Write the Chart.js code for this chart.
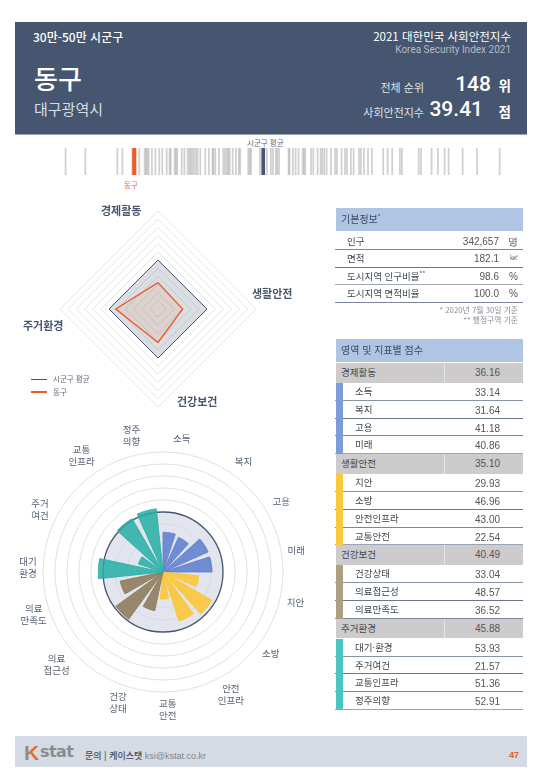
<!DOCTYPE html>
<html lang="ko">
<head>
<meta charset="utf-8">
<title>동구 사회안전지수</title>
<script src="https://cdn.jsdelivr.net/npm/chart.js@4"></script>
<style>
  html, body { margin: 0; padding: 0; background: #fff; }
  #page { position: relative; width: 540px; height: 780px; overflow: hidden;
          font-family: "Noto Sans CJK KR", sans-serif; color: #4a5568; }
  #page > * { position: absolute; }
  .t { position: absolute; white-space: nowrap; line-height: 1; }
  .num { font-family: "Liberation Sans", Arial, sans-serif; }
  canvas { display: block; }
  #head { left: 15px; top: 22px; width: 512px; height: 113px; background: #465570;
          border-bottom: 1px solid #9aa5b5; box-sizing: border-box; color: #fff; }
  #foot { left: 15px; top: 736px; width: 512px; height: 31px; background: #d5dbe4; }
  .bar { background: #b0c4e4; left: 336px; width: 187px; height: 23px; color: #3f4a5c; font-size: 10px; }
  .bar span { position: absolute; left: 5px; top: 6px; line-height: 1; }
  .radarLabel { font-size: 11px; font-weight: 700; color: #465570; }
  .row { position: absolute; left: 335px; width: 188px; font-size: 9.5px; color: #3f4650; }
  .row sup { font-size: 6px; line-height: 0; }
</style>
</head>
<body>
<div id="page">
  <div id="head">
    <div class="t" style="left:18px;top:9px;font-size:12px;font-weight:500">30만-50만 시군구</div>
    <div class="t" style="right:16px;top:9px;font-size:11.5px">2021 대한민국 사회안전지수</div>
    <div class="t" style="right:16px;top:23px;font-size:10px;color:#b4bcc9;font-family:Roboto">Korea Security Index 2021</div>
    <div class="t" style="left:19px;top:43px;font-size:26px;font-weight:500">동구</div>
    <div class="t" style="left:19px;top:79px;font-size:15px;color:#d9dde4">대구광역시</div>
    <div class="t" style="right:103px;top:60px;font-size:11px;color:#dfe3e9">전체 순위</div>
    <div class="t" style="right:36px;top:52px;font-size:21px;font-weight:500;font-family:Roboto">148</div>
    <div class="t" style="right:16px;top:57px;font-size:13.5px;font-weight:700">위</div>
    <div class="t" style="right:103px;top:85px;font-size:11px;color:#dfe3e9">사회안전지수</div>
    <div class="t" style="right:44px;top:77px;font-size:21px;font-weight:500;font-family:Roboto">39.41</div>
    <div class="t" style="right:16px;top:83px;font-size:13.5px;font-weight:700">점</div>
  </div>

  <div class="t" style="left:247px;top:139px;font-size:7.5px;color:#5f6b7d">시군구 평균</div>
  <canvas id="stripChart" width="465" height="27" style="left:50px;top:148px"></canvas>
  <div class="t" style="left:124px;top:181px;font-size:7.5px;color:#ee6a3c">동구</div>

  <canvas id="radarChart" width="220" height="220" style="left:48px;top:199px"></canvas>
  <div class="t radarLabel" style="left:101px;top:205px">경제활동</div>
  <div class="t radarLabel" style="left:252px;top:288px">생활안전</div>
  <div class="t radarLabel" style="left:177px;top:396px">건강보건</div>
  <div class="t radarLabel" style="left:23px;top:320px">주거환경</div>
  <div style="left:31px;top:379px;width:16px;height:1px;background:#47556e"></div>
  <div class="t" style="left:53px;top:375px;font-size:7.5px;color:#5f6b7d">시군구 평균</div>
  <div style="left:31px;top:391px;width:16px;height:2px;background:#ee5a24"></div>
  <div class="t" style="left:53px;top:388px;font-size:7.5px;color:#5f6b7d">동구</div>

  <canvas id="polarChart" width="320" height="320" style="left:3px;top:412px"></canvas>

  <div class="bar" style="top:208px"><span>기본정보<sup style="font-size:6px;line-height:0">*</sup></span></div>
  <div id="infoRows"></div>
  <div class="t" style="right:22px;top:306px;font-size:7.8px;color:#8a8f98">* 2020년 7월 30일 기준</div>
  <div class="t" style="right:22px;top:316px;font-size:7.8px;color:#8a8f98">** 행정구역 기준</div>

  <div class="bar" style="top:339px"><span>영역 및 지표별 점수</span></div>
  <div id="scoreRows"></div>

  <div id="foot">
    <div class="t" style="left:9px;top:6px;font-size:21px;font-weight:700;font-family:'Liberation Sans';color:transparent;background:linear-gradient(90deg,#8a8d90 36%,#ee6a24 36%);-webkit-background-clip:text;background-clip:text">K</div>
    <div class="t" style="left:25px;top:8px;font-size:16px;font-weight:700;font-family:'DejaVu Sans';color:#8a8d90;letter-spacing:-0.6px">stat</div>
    <div class="t" style="left:70px;top:15px;font-size:9px;font-weight:500;color:#444c58">문의 | 케이스탯 <span class="num" style="font-weight:400;color:#7d8592">ksi@kstat.co.kr</span></div>
    <div class="t num" style="right:8px;top:15px;font-size:9px;font-weight:700;color:#e0602c">47</div>
  </div>
</div>

<script>
/*********************************************************
 * DATA
 *********************************************************/
const districtName = "동구";
const averageName = "시군구 평균";

// 전체 시군구 지수 분포
const allScores = [
  33.77, 35.39, 38.02, 38.43, 39.25, 39.82, 40.26, 40.37, 40.48, 40.59,
  40.86, 41.14, 41.46, 41.71, 42.07, 42.31, 42.40, 42.72, 42.83, 42.94,
  43.30, 43.52, 43.79, 43.93, 44.04, 44.17, 44.31, 44.47, 44.61, 44.83,
  45.24, 45.54, 45.84, 45.90, 46.06, 46.36, 46.72, 46.86, 47.02, 47.13,
  47.24, 47.49, 47.76, 48.00, 48.11, 48.77, 48.88, 48.99, 49.73, 50.30,
  50.63, 50.80, 51.04, 51.15, 51.29, 52.08, 52.16, 52.44, 52.66, 52.90,
  53.23, 53.34, 53.45, 53.92, 54.11, 54.46, 54.71, 54.85, 55.01, 55.20,
  55.56, 55.89, 56.05, 56.43, 56.71, 56.87, 57.20, 57.42, 57.86, 58.02,
  58.27, 58.60, 58.92, 59.85, 60.21, 60.59, 61.22, 61.39, 62.76, 62.95,
  63.82, 64.34, 64.89, 65.22, 66.37, 67.55, 69.41
];
const districtScore = 39.41;
const averageScore = 50;

// 영역
const domains = ["경제활동", "생활안전", "건강보건", "주거환경"];
const domainScores = [36.16, 35.10, 40.49, 45.88];
const domainAverage = [50, 50, 50, 50];

// 지표
const indicatorNames = [
  ["소득", "복지", "고용", "미래"],
  ["치안", "소방", "안전인프라", "교통안전"],
  ["건강상태", "의료접근성", "의료만족도"],
  ["대기·환경", "주거여건", "교통인프라", "정주의향"]
];
const indicatorScores = [
  [33.14, 31.64, 41.18, 40.86],
  [29.93, 46.96, 43.00, 22.54],
  [33.04, 48.57, 36.52],
  [53.93, 21.57, 51.36, 52.91]
];
const polarLabels = [
  ["소득"], ["복지"], ["고용"], ["미래"], ["치안"], ["소방"], ["안전", "인프라"], ["교통", "안전"],
  ["건강", "상태"], ["의료", "접근성"], ["의료", "만족도"], ["대기", "환경"], ["주거", "여건"],
  ["교통", "인프라"], ["정주", "의향"]
];

// 기본정보
const infoLabels = ["인구", "면적", "도시지역 인구비율<sup>**</sup>", "도시지역 면적비율"];
const infoValues = ["342,657", "182.1", "98.6", "100.0"];
const infoUnits = ["명", "㎢", "%", "%"];

/*********************************************************
 * COLORS
 *********************************************************/
const NAVY = "#47556e";
const ORANGE = "#ee5a24";
const stripColors = ["#7d9bd8", "#fcc93c", "#ad9f80", "#4cc4c0"];
const barFill = ["rgba(92,124,205,0.85)", "rgba(253,196,44,0.85)", "rgba(138,120,86,0.85)", "rgba(38,174,164,0.85)"];
const barEdge = ["#5c7ccd", "#fdc42c", "#8a7856", "#26aea4"];

// 바깥 라벨 자리
const labelAngles = [8, 36, 59, 81, 103, 127, 151, 178, 199, 229, 252, 272, 297, 325, 347];
const labelRadius = [135, 137, 138, 135, 136, 135, 140, 137, 138, 141, 136, 135, 138, 142, 140];

/*********************************************************
 * TABLES
 *********************************************************/
function addRow(parent, top, height, html, border) {
  const row = document.createElement("div");
  row.className = "row";
  row.style.top = top + "px";
  row.style.height = height + "px";
  if (border) row.style.borderBottom = "1px solid " + border;
  row.innerHTML = html;
  parent.appendChild(row);
}

const infoBox = document.getElementById("infoRows");
const infoLines = ["#7c8899", "#6b7789", "#a3aab4", "#7c8899"];
infoLabels.forEach((label, i) => {
  addRow(infoBox, 232.5 + i * 17.5, 16.5,
    `<span class="t" style="left:12px;top:4px">${label}</span>` +
    `<span class="t num" style="right:24px;top:4px;font-size:10px;color:#555">${infoValues[i]}</span>` +
    `<span class="t num" style="right:5px;top:4px;font-size:${i === 1 ? 8 : 10}px;color:#555">${infoUnits[i]}</span>`,
    infoLines[i]);
});

const scoreBox = document.getElementById("scoreRows");
const rowLines = ["#8794a6", "#6b7789", "#7c8899", "#9aa5b5"];
let y = 363;
domains.forEach((domain, d) => {
  addRow(scoreBox, y, 19.5,
    `<div style="position:absolute;left:1px;top:0;width:187px;height:19.5px;background:#cdcbcc"></div>` +
    `<div style="position:absolute;left:109px;top:0;width:1px;height:19.5px;background:#e6e5e5"></div>` +
    `<span class="t" style="left:6px;top:5px">${domain}</span>` +
    `<span class="t num" style="left:140px;top:5px;font-size:10px;color:#555">${domainScores[d].toFixed(2)}</span>`);
  y += 20;
  indicatorNames[d].forEach((name, i) => {
    addRow(scoreBox, y, 16.8,
      `<span class="t" style="left:20px;top:4px">${name}</span>` +
      `<span class="t num" style="left:140px;top:5px;font-size:10px;color:#555">${indicatorScores[d][i].toFixed(2)}</span>` +
      `<div style="position:absolute;left:1px;top:0;width:7px;height:17.8px;background:${stripColors[d]}"></div>`,
      rowLines[i % 4]);
    y += 17.8;
  });
});

/*********************************************************
 * STRIP CHART
 *********************************************************/
new Chart(document.getElementById("stripChart"), {
  type: "bar",
  data: {
    datasets: [
      { label: districtName, data: [{ x: districtScore, y: 1 }], backgroundColor: ORANGE, barThickness: 3.4 },
      { label: averageName, data: [{ x: averageScore, y: 1 }], backgroundColor: NAVY, barThickness: 3 },
      { label: "전체", data: allScores.map(v => ({ x: v, y: 1 })), backgroundColor: "rgba(150,150,150,0.45)", barThickness: 1.1 }
    ]
  },
  options: {
    responsive: false,
    animation: false,
    events: [],
    layout: { padding: 0 },
    plugins: { legend: { display: false }, tooltip: { enabled: false } },
    scales: {
      x: { type: "linear", display: false, min: 32.49, max: 70.67, offset: false },
      y: { display: false, min: 0, max: 1 }
    },
    datasets: { bar: { grouped: false } }
  }
});

/*********************************************************
 * RADAR CHART
 *********************************************************/
new Chart(document.getElementById("radarChart"), {
  type: "radar",
  data: {
    labels: domains,
    datasets: [
      { label: districtName, data: domainScores, borderColor: ORANGE, borderWidth: 1.3, backgroundColor: "rgba(238,120,60,0.1)", pointRadius: 0 },
      { label: averageName, data: domainAverage, borderColor: NAVY, borderWidth: 1, backgroundColor: "rgba(71,85,110,0.2)", pointRadius: 0 }
    ]
  },
  options: {
    responsive: false,
    animation: false,
    events: [],
    layout: { padding: 12 },
    plugins: { legend: { display: false }, tooltip: { enabled: false } },
    elements: { line: { tension: 0 } },
    scales: {
      r: {
        min: 20,
        max: 80,
        ticks: { display: false, stepSize: 5 },
        grid: { color: "#e4e4e4", lineWidth: 1 },
        angleLines: { display: false },
        pointLabels: { display: false }
      }
    }
  }
});

/*********************************************************
 * POLAR CHART
 *********************************************************/
// 지표 사이 빈 칸을 끼워 넣어 조각 사이를 띄운다
const flatScores = indicatorScores.flat();
const flatGroups = indicatorScores.flatMap((list, d) => list.map(() => d));
const polarValues = flatScores.flatMap(v => [v, 0]);
const polarCats = indicatorNames.flat().flatMap(n => [n, ""]);

// 바깥 라벨
const sliceLabels = {
  id: "sliceLabels",
  afterDraw(chart) {
    const scale = chart.scales.r;
    const ctx = chart.ctx;
    ctx.save();
    ctx.font = '9.5px "Noto Sans CJK KR"';
    ctx.fillStyle = "#566275";
    ctx.textAlign = "center";
    ctx.textBaseline = "middle";
    polarLabels.forEach((lines, i) => {
      const a = labelAngles[i] * Math.PI / 180;
      const px = scale.xCenter + labelRadius[i] * Math.sin(a);
      const py = scale.yCenter - labelRadius[i] * Math.cos(a);
      lines.forEach((line, k) => {
        ctx.fillText(line, px, py + (k - (lines.length - 1) / 2) * 12);
      });
    });
    ctx.restore();
  }
};

new Chart(document.getElementById("polarChart"), {
  type: "polarArea",
  data: {
    labels: polarCats,
    datasets: [
      {
        label: districtName,
        data: polarValues,
        angle: ctx => ctx.dataIndex % 2 ? 6 : 18,
        backgroundColor: ctx => ctx.dataIndex % 2 ? "transparent" : barFill[flatGroups[ctx.dataIndex / 2]],
        borderColor: ctx => ctx.dataIndex % 2 ? "transparent" : barEdge[flatGroups[ctx.dataIndex / 2]],
        borderWidth: 0.8
      },
      {
        label: averageName,
        data: [averageScore],
        backgroundColor: "rgba(60,80,140,0.15)",
        borderWidth: 0
      }
    ]
  },
  options: {
    responsive: false,
    animation: false,
    events: [],
    layout: { padding: 40 },
    plugins: { legend: { display: false }, tooltip: { enabled: false } },
    scales: {
      r: {
        min: 0,
        max: 100,
        ticks: { display: false, stepSize: 10 },
        grid: {
          circular: true,
          lineWidth: ctx => ctx.tick.value === 50 ? 1.3 : 1,
          color: ctx => ctx.tick.value === 50 ? NAVY : ctx.tick.value < 50 ? "#f3f3f3" : "#e0e0e0"
        },
        angleLines: { display: false },
        pointLabels: { display: false }
      }
    }
  },
  plugins: [sliceLabels]
});
</script>
</body>
</html>
